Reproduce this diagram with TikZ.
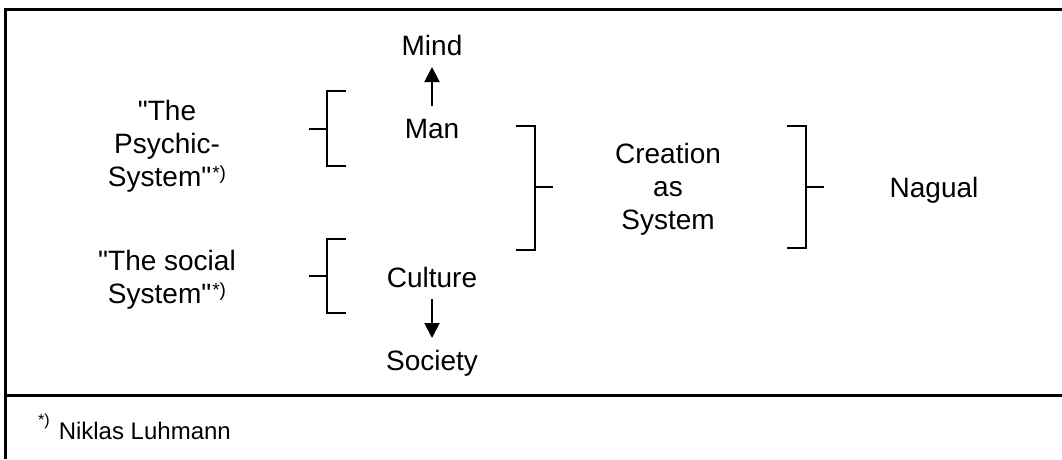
\documentclass[tikz,border=0pt]{standalone}
\usepackage{fontspec}
\newfontfamily\sysfont{Liberation Sans}
\newcommand{\starref}[2]{\raisebox{#1}{\fontsize{#2}{#2}\selectfont *)}}
\usetikzlibrary{arrows.meta,positioning}
\tikzset{
  word/.style    = {inner sep=0pt, outer sep=12pt, text height=20pt, text depth=0pt},
  sysname/.style = {inner sep=0pt, align=center, anchor=north},
  frame/.style   = {line width=3pt},
  brack/.style   = {line width=2pt}
}

\begin{document}
\begin{tikzpicture}[
  x=1pt, y=-1pt,
  node distance=39pt,
  >={Triangle[length=15pt,width=15pt]},
  every node/.style={font=\sysfont\fontsize{28}{33}\selectfont}]

\useasboundingbox (0,0) rectangle (1062,459);

% table frame and the footnote rule
\draw[frame] (1062,9) -- (5,9) -- (5,459);
\draw[frame] (5,395) -- (1062,395);

% left column
\node[sysname] (psychic) at (167,100) {"The\\Psychic-\\System"\kern1pt\starref{7pt}{19}};
\node[sysname] (social) at (167,250) {"The social\\System"\kern1pt\starref{7pt}{19}};

% middle column
\node[word] (man) at (432,128) {Man};
\node[word] (mind) [above=of man] {Mind};
\node[word] (culture) at (432,277) {Culture};
\node[word] (society) [below=of culture] {Society};

% right columns
\node[sysname] (creation) at (668,143) {Creation\\as\\System};
\node[word] (nagual) at (934,187) {Nagual};

% footnote
\node[anchor=base west, inner sep=0pt, font=\sysfont\fontsize{24}{28}\selectfont] (note)
  at (38,439) {\starref{14pt}{16}\hspace{9pt}Niklas Luhmann};

% arrows
\draw[->, line width=2pt] (man) -- (mind);
\draw[->, line width=2pt] (culture) -- (society);

% brackets opening to the right
\foreach \top/\bot in {91/166, 239/313}
  \draw[brack] (346,\top) -- (327,\top) -- (327,\bot) -- (346,\bot)
               (309,{(\top+\bot)/2}) -- (327,{(\top+\bot)/2});

% brackets opening to the left
\foreach \x/\bot in {516/250, 787/248}
  \draw[brack] (\x,126) -- ({\x+19},126) -- ({\x+19},\bot) -- (\x,\bot)
               ({\x+19},187) -- ({\x+37},187);

\end{tikzpicture}
\end{document}
